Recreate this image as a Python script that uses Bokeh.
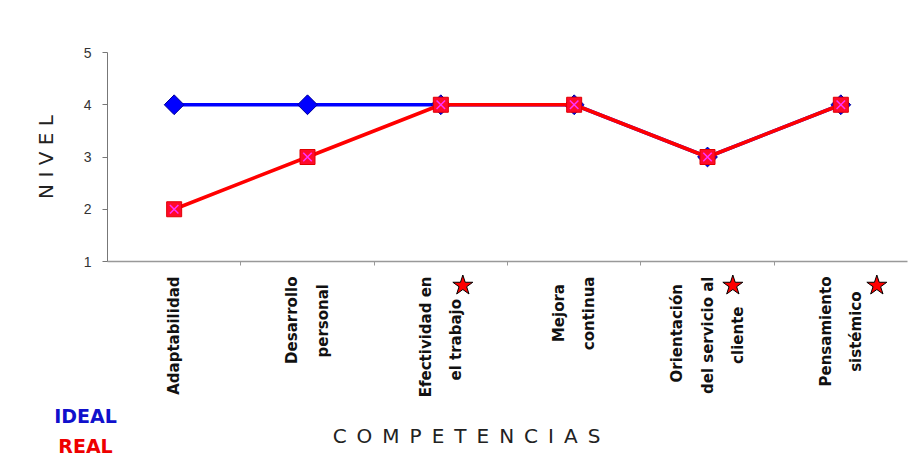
from bokeh.plotting import figure
from bokeh.models import Range1d, FixedTicker, Label
from bokeh.embed import file_html
from bokeh.resources import INLINE
import math

categories = ["Adaptabilidad", "Desarrollo\npersonal", "Efectividad en\nel trabajo",
              "Mejora\ncontinua", "Orientación\ndel servicio al\ncliente", "Pensamiento\nsistémico"]
ideal = [4, 4, 4, 4, 3, 4]
real = [2, 3, 4, 4, 3, 4]
starred = [False, False, True, False, True, True]
y_ticks = [1, 2, 3, 4, 5]

xs = list(range(len(categories)))
n = len(categories)

# ---- layout (pixels) ----
W, H = 908, 455
AX_LEFT, AX_RIGHT = 107, 907      # x pixel of plot area edges
Y_TOP, Y_BOT = 52, 261            # y pixel of top tick and bottom tick
kx = (AX_RIGHT - AX_LEFT) / n
ky = (Y_BOT - Y_TOP) / (y_ticks[-1] - y_ticks[0])
x_lo = -0.5 - AX_LEFT / kx
x_hi = n - 0.5 + (W - AX_RIGHT) / kx
y_hi = y_ticks[-1] + Y_TOP / ky
y_lo = y_ticks[0] - (H - Y_BOT) / ky

p = figure(width=W, height=H, output_backend="svg", toolbar_location=None,
           x_range=Range1d(x_lo, x_hi), y_range=Range1d(y_lo, y_hi),
           min_border=0, min_border_left=0, min_border_right=0,
           min_border_top=0, min_border_bottom=0,
           x_axis_location="below", y_axis_location="left")
p.outline_line_color = None
p.xgrid.grid_line_color = None
p.ygrid.grid_line_color = None

# lines and markers
p.line(xs, ideal, line_color="#0000FF", line_width=3.5)
p.scatter(xs, ideal, marker="square", angle=math.pi / 4, size=14,
          fill_color="#0000FF", line_color="#00009A")
p.line(xs, real, line_color="#FF0000", line_width=3.5)
p.scatter(xs, real, marker="square", size=15, fill_color="#FF0A2A", line_color="#E00000")
p.scatter(xs, real, marker="x", size=12, line_color="#FF33FF", line_width=1.5)

# x axis: multi-line labels, visually centred line by line (trailing en-spaces)
EN = "\u2002"
line_pad = [[0], [0, 1], [0, 3], [1, 0], [1, 0, 4], [0, 2]]
labels = {}
for i, c in zip(xs, categories):
    lines = c.split("\n")
    labels[i] = "\n".join(ln + EN * k for ln, k in zip(lines, line_pad[i]))

xa = p.xaxis[0]
xa.fixed_location = y_ticks[0]
xa.bounds = (-0.5, n - 0.5)
xa.ticker = FixedTicker(ticks=xs, minor_ticks=[i + 0.5 for i in xs[:-1]])
xa.major_label_overrides = labels
xa.major_label_orientation = math.pi / 2
xa.major_label_text_font = "DejaVu Sans"
xa.major_label_text_font_style = "bold"
xa.major_label_text_font_size = "15px"
xa.major_label_text_color = "#111111"
xa.major_label_text_line_height = 1.7
xa.major_label_standoff = 11
xa.major_tick_line_color = None
xa.major_tick_out = 0
xa.major_tick_in = 0
xa.minor_tick_out = 4
xa.minor_tick_in = 0
xa.minor_tick_line_color = "#999999"
xa.axis_line_color = "#999999"
xa.axis_line_width = 1.5

# y axis
ya = p.yaxis[0]
ya.fixed_location = -0.5
ya.bounds = (y_ticks[0], y_ticks[-1])
ya.ticker = FixedTicker(ticks=y_ticks)
ya.minor_tick_line_color = None
ya.major_tick_out = 5
ya.major_tick_in = 0
ya.major_tick_line_color = "#777777"
ya.axis_line_color = "#777777"
ya.major_label_text_font = "Liberation Sans"
ya.major_label_text_font_size = "14px"
ya.major_label_text_color = "#333333"
ya.major_label_standoff = 11
ya.axis_label = "N I V E L"
ya.axis_label_text_font = "DejaVu Sans"
ya.axis_label_text_font_style = "normal"
ya.axis_label_text_font_size = "20px"
ya.axis_label_text_color = "#222222"
ya.axis_label_standoff = 23

# x axis title (positioned as in the original, left of the axis centre)
p.add_layout(Label(x=466, y=H - 435, x_units="screen", y_units="screen",
                   text="C\u2002O\u2002M\u2002P\u2002E\u2002T\u2002E\u2002N\u2002C\u2002I\u2002A\u2002S",
                   text_color="#222222", text_font="DejaVu Sans", text_font_size="20px",
                   text_align="center", text_baseline="middle"))

# stars flagging categories (placed just under the axis, beside the label)
star_offsets = [0.0, 0.0, 0.165, 0.0, 0.19, 0.27]
star_dy_px = 24
sx = [i + star_offsets[i] for i in xs if starred[i]]
sy = [y_ticks[0] - star_dy_px / ky for i in xs if starred[i]]
p.scatter(sx, sy, marker="star", size=21, fill_color="#FF0000", line_color="#000000",
          line_width=1)

# legend-like texts
p.add_layout(Label(x=85, y=H - 415, x_units="screen", y_units="screen", text="IDEAL",
                   text_color="#1010CC", text_font="DejaVu Sans", text_font_style="bold",
                   text_font_size="19px", text_align="center", text_baseline="middle"))
p.add_layout(Label(x=85, y=H - 445, x_units="screen", y_units="screen", text="REAL",
                   text_color="#EE0000", text_font="DejaVu Sans", text_font_style="bold",
                   text_font_size="19px", text_align="center", text_baseline="middle"))

open("out.html", "w").write(file_html(p, INLINE))
